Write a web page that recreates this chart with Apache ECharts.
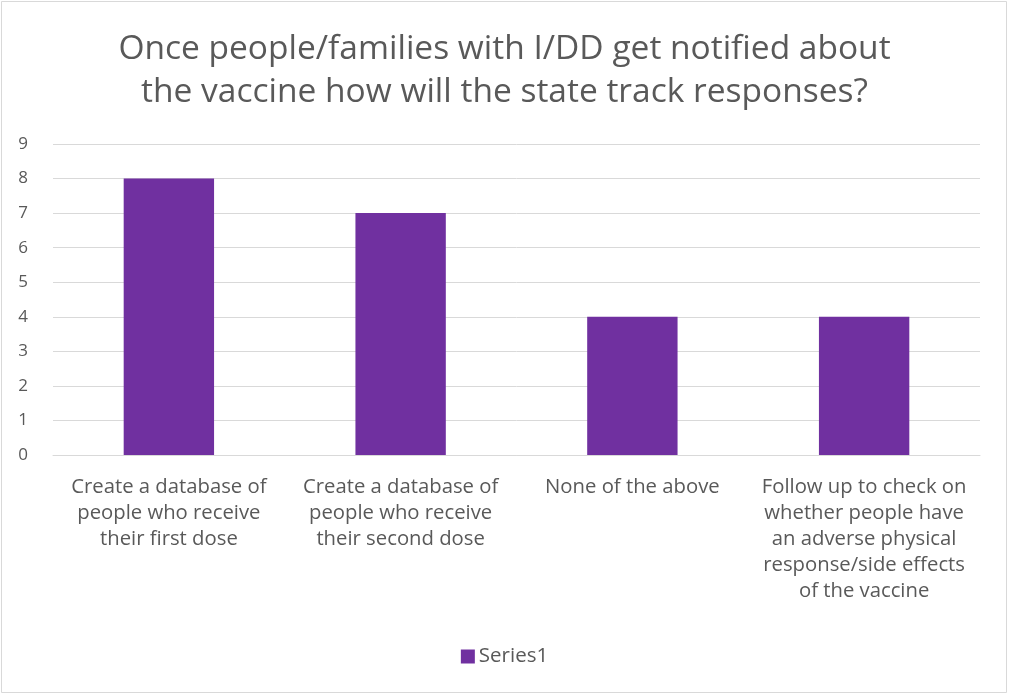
<!DOCTYPE html>
<html><head><meta charset="utf-8">
<script src="https://cdn.jsdelivr.net/npm/echarts@6/dist/echarts.min.js"></script>
<style>html,body{margin:0;padding:0;background:#fff}#c{width:1009px;height:695px}</style>
</head><body><div id="c"></div>
<script>
const titleText = "Once people/families with I/DD get notified about\nthe vaccine how will the state track responses?";
const categories = [
  "Create a database of\npeople who receive\ntheir first dose",
  "Create a database of\npeople who receive\ntheir second dose",
  "None of the above",
  "Follow up to check on\nwhether people have\nan adverse physical\nresponse/side effects\nof the vaccine"
];
const seriesName = "Series1";
const values = [8, 7, 4, 4];
const yMin = 0, yMax = 9, yStep = 1;

const FONT = "Open Sans";
const chart = echarts.init(document.getElementById('c'), null, {renderer:'canvas'});
chart.setOption({
  animation:false,
  backgroundColor:'#fff',
  textStyle:{fontFamily:FONT},
  graphic:[{type:'rect',shape:{x:1.5,y:1.5,width:1005,height:691},style:{fill:'none',stroke:'#d9d9d9',lineWidth:1}}],
  title:{text:titleText,left:'center',top:23,textStyle:{fontFamily:FONT,fontSize:33.5,fontWeight:'normal',color:'#595959',lineHeight:43}},
  legend:{bottom:23,left:'center',itemWidth:14,itemHeight:14,itemGap:6,icon:'rect',textStyle:{fontFamily:FONT,fontSize:20.5,color:'#595959',padding:[0,0,0,-1]},data:[seriesName]},
  grid:{left:53,right:29,top:144,bottom:240,containLabel:false},
  xAxis:{type:'category',data:categories,axisTick:{show:false},
    axisLine:{lineStyle:{color:'#d9d9d9'}},
    axisLabel:{interval:0,margin:19,fontFamily:FONT,fontSize:20.3,color:'#595959',lineHeight:26,align:'center'}},
  yAxis:{type:'value',min:yMin,max:yMax,interval:yStep,
    axisLine:{show:false},axisTick:{show:false},
    splitLine:{lineStyle:{color:'#d9d9d9',width:1}},
    axisLabel:{margin:25,fontFamily:FONT,fontSize:17,color:'#595959'}},
  series:[{name:seriesName,type:'bar',data:values,barWidth:'39%',itemStyle:{color:'#7030A0'}}]
});
</script></body></html>
